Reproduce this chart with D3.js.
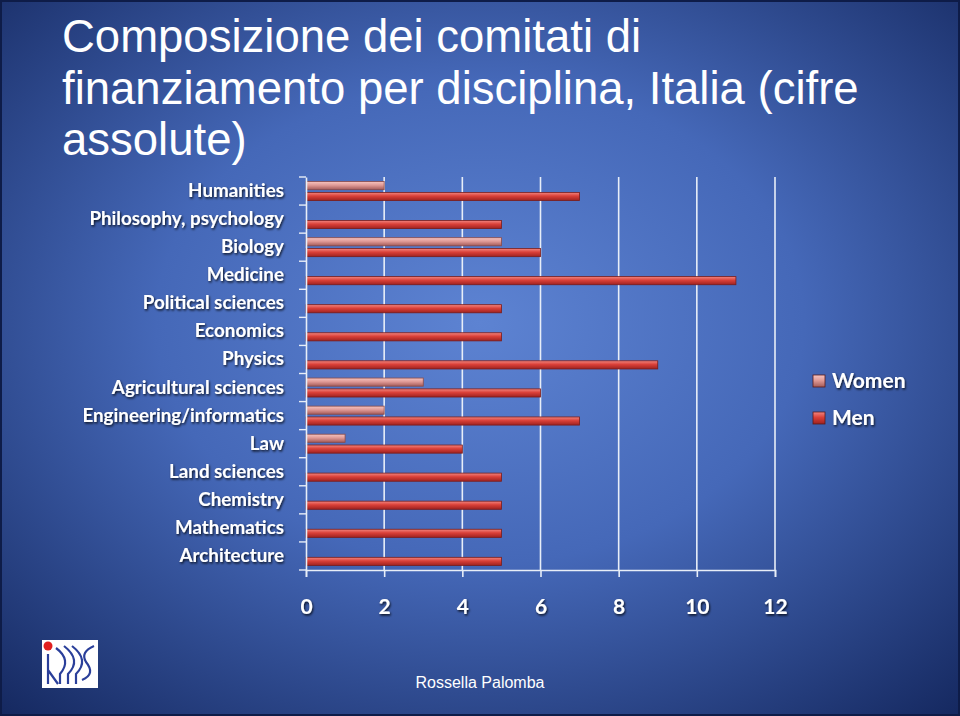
<!DOCTYPE html>
<html><head><meta charset="utf-8">
<script src="https://cdn.jsdelivr.net/npm/d3@7"></script>
<style>html,body{margin:0;padding:0;background:#1a2d6a;}svg{display:block;}</style>
</head><body>
<script>
const categories = ["Humanities","Philosophy, psychology","Biology","Medicine","Political sciences","Economics","Physics","Agricultural sciences","Engineering/informatics","Law","Land sciences","Chemistry","Mathematics","Architecture"];
const women = [2,0,5,0,0,0,0,3,2,1,0,0,0,0];
const men   = [7,5,6,11,5,5,9,6,7,4,5,5,5,5];
const seriesNames = ["Women","Men"];
const xTicks = [0,2,4,6,8,10,12];
const titleLines = ["Composizione dei comitati di","finanziamento per disciplina, Italia (cifre","assolute)"];
const footer = "Rossella Palomba";

const W = 960, H = 716;
const svg = d3.select("body").append("svg").attr("width", W).attr("height", H);
const defs = svg.append("defs");

const bg = defs.append("radialGradient").attr("id","bg").attr("cx","50%").attr("cy","45%").attr("r","75%");
bg.append("stop").attr("offset","0%").attr("stop-color","#5d83d2");
bg.append("stop").attr("offset","45%").attr("stop-color","#4568b8");
bg.append("stop").attr("offset","100%").attr("stop-color","#14275e");
svg.append("rect").attr("width",W).attr("height",H).attr("fill","url(#bg)");
svg.append("rect").attr("x",1).attr("y",1).attr("width",W-2).attr("height",H-2).attr("fill","none").attr("stroke","#0e1c48").attr("stroke-width",2);

function grad(id, c1, c2, c3){
  const g = defs.append("linearGradient").attr("id",id).attr("x1","0").attr("y1","0").attr("x2","0").attr("y2","1");
  g.append("stop").attr("offset","0%").attr("stop-color",c1);
  g.append("stop").attr("offset","45%").attr("stop-color",c2);
  g.append("stop").attr("offset","100%").attr("stop-color",c3);
}
grad("gw","#f6c4c0","#e09a96","#a45a58");
grad("gm","#f28680","#da4038","#9e2220");

const shadow = defs.append("filter").attr("id","ts").attr("x","-10%").attr("y","-30%").attr("width","130%").attr("height","160%");
shadow.append("feDropShadow").attr("dx",1).attr("dy",1.5).attr("stdDeviation",0.8).attr("flood-color","#000").attr("flood-opacity",0.8);

// title
svg.append("g").selectAll("text").data(titleLines).join("text")
  .attr("x",62).attr("y",(d,i)=>52+i*51.5)
  .attr("fill","#fff").attr("font-family","Liberation Sans, Arial, sans-serif").attr("font-size",45.5)
  .text(d=>d);

const m = {left:306, right:775, top:177, bottom:570};
const x = d3.scaleLinear().domain([0,12]).range([m.left,m.right]);
const y = d3.scaleBand().domain(categories).range([m.top,m.bottom]);
const sub = d3.scaleBand().domain(seriesNames).range([0,y.bandwidth()]).paddingInner(0.25).paddingOuter(0.42);

// gridlines
svg.append("g").selectAll("line").data(xTicks.filter(d=>d>0)).join("line")
  .attr("x1",d=>x(d)).attr("x2",d=>x(d)).attr("y1",m.top).attr("y2",m.bottom)
  .attr("stroke","#e8eef8").attr("stroke-width",1.6);

// bars
const data = categories.map((c,i)=>({c, vals:[{s:"Women",v:women[i]},{s:"Men",v:men[i]}]}));
const rows = svg.append("g").selectAll("g").data(data).join("g").attr("transform",d=>`translate(0,${y(d.c)})`);
rows.selectAll("rect").data(d=>d.vals.filter(e=>e.v>0)).join("rect")
  .attr("x",x(0)).attr("y",e=>sub(e.s)).attr("height",sub.bandwidth())
  .attr("width",e=>x(e.v)-x(0))
  .attr("fill",e=>e.s==="Women"?"url(#gw)":"url(#gm)")
  .attr("stroke",e=>e.s==="Women"?"#8a4a48":"#7a1c1a").attr("stroke-width",0.8);

// axes
const xAxis = svg.append("g").attr("transform",`translate(0,${m.bottom})`)
  .call(d3.axisBottom(x).tickValues(xTicks).tickSize(7).tickPadding(22));
xAxis.select(".domain").attr("stroke","#e8eef8").attr("stroke-width",1.6);
xAxis.selectAll(".tick line").attr("stroke","#e8eef8").attr("stroke-width",1.6);
xAxis.selectAll("text").attr("fill","#fff").attr("font-family","Lato, Open Sans, sans-serif").attr("font-weight","bold").attr("font-size",21).attr("filter","url(#ts)");

const yAxis = svg.append("g").attr("transform",`translate(${m.left},0)`)
  .call(d3.axisLeft(y).tickSize(0).tickPadding(22));
yAxis.select(".domain").attr("stroke","#e8eef8").attr("stroke-width",1.6);
yAxis.selectAll("text").attr("fill","#fff").attr("font-family","Lato, Open Sans, sans-serif").attr("font-weight","bold").attr("font-size",18.8).attr("filter","url(#ts)");
// boundary ticks
svg.append("g").selectAll("line").data(categories.concat(["__end"])).join("line")
  .attr("x1",m.left-7).attr("x2",m.left)
  .attr("y1",(d,i)=>m.top+i*y.step()).attr("y2",(d,i)=>m.top+i*y.step())
  .attr("stroke","#e8eef8").attr("stroke-width",1.4);

// legend
const lg = svg.append("g").selectAll("g").data(seriesNames).join("g")
  .attr("transform",(d,i)=>`translate(813,${375+i*37})`);
lg.append("rect").attr("width",12).attr("height",12)
  .attr("fill",d=>d==="Women"?"url(#gw)":"url(#gm)").attr("stroke","#5a1a1a").attr("stroke-width",0.8);
lg.append("text").attr("x",19).attr("y",13).text(d=>d)
  .attr("fill","#fff").attr("font-family","Lato, Open Sans, sans-serif").attr("font-weight","bold").attr("font-size",21).attr("filter","url(#ts)");

// footer
svg.append("text").attr("x",480).attr("y",688).attr("text-anchor","middle")
  .attr("fill","#fff").attr("font-family","Liberation Sans, Arial, sans-serif").attr("font-size",16).text(footer);

// logo
const logo = svg.append("g").attr("transform","translate(42,640)");
logo.append("rect").attr("width",56).attr("height",48).attr("fill","#fff");
logo.append("circle").attr("cx",6).attr("cy",6).attr("r",4.5).attr("fill","#e02020");
logo.append("path").attr("d","M6 14 V44 M6 30 L16 44 M14 8 Q30 20 18 34 V44 M22 6 Q40 20 26 34 V44 M30 6 Q48 20 34 34 V44 M40 40 Q54 34 44 22 Q38 12 52 6")
  .attr("fill","none").attr("stroke","#2a3f9a").attr("stroke-width",2.2);
</script>
</body></html>
